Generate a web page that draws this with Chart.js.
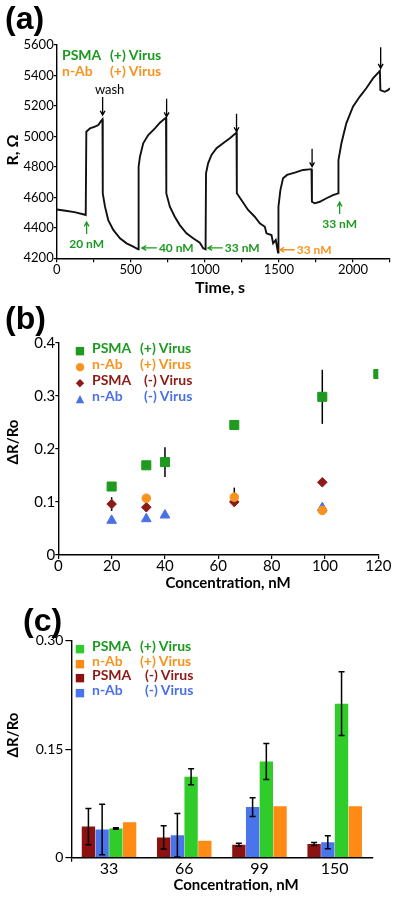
<!DOCTYPE html>
<html lang="en">
<head>
<meta charset="UTF-8">
<title>Sensor response to virus</title>
<script src="https://cdn.jsdelivr.net/npm/chart.js"></script>
<style>
  body { margin: 0; background: #fff; font-family: Lato, sans-serif; }
  .panel { position: absolute; left: 0; width: 400px; }
  .tag { position: absolute; font: bold 32px "Liberation Sans", Arial, sans-serif; line-height: 32px; }
  .lg { position: absolute; font-weight: bold; white-space: nowrap; }
  .lg span { position: absolute; top: 0; }
</style>
</head>
<body>
<div class="panel" style="top:0;height:300px"><canvas id="chartA" width="400" height="300"></canvas></div>
<div class="panel" style="top:300px;height:300px"><canvas id="chartB" width="400" height="300"></canvas></div>
<div class="panel" style="top:600px;height:299px"><canvas id="chartC" width="400" height="299"></canvas></div>
<div class="tag" style="left:5px;top:2px">(a)</div>
<div class="tag" style="left:5px;top:302px">(b)</div>
<div class="tag" style="left:23px;top:604px">(c)</div>
<div id="legends"></div>

<script>
// ---- panel (a): resistance trace ----
const timeS = [0, 60, 120, 191, 196, 200, 225, 258, 281, 299, 309, 311, 326, 348, 382, 427, 472, 517, 550,
  553, 562, 584, 618, 663, 697, 730, 738, 740, 764, 797, 831, 876, 921, 966, 989, 1005,
  1008, 1022, 1045, 1079, 1123, 1169, 1214, 1216, 1247, 1292, 1337, 1371, 1405, 1416, 1450, 1461, 1479, 1494,
  1497, 1510, 1528, 1555, 1607, 1663, 1720, 1723, 1742, 1776, 1821, 1865, 1899,
  1902, 1922, 1955, 2000, 2045, 2090, 2135, 2182, 2185, 2214, 2236, 2250];
const resOhm = [4520, 4512, 4503, 4486, 4484, 5031, 5053, 5064, 5075, 5100, 5112, 4626, 4539, 4451, 4386, 4331, 4298, 4276, 4259,
  4801, 4867, 4955, 5009, 5053, 5090, 5117, 5122, 4626, 4539, 4473, 4418, 4364, 4331, 4302, 4266, 4259,
  4758, 4823, 4878, 4922, 4955, 4988, 5025, 4627, 4583, 4517, 4473, 4430, 4407, 4364, 4353, 4298, 4320, 4238,
  4539, 4648, 4725, 4747, 4762, 4780, 4785, 4571, 4561, 4571, 4594, 4615, 4626,
  4845, 4955, 5086, 5195, 5260, 5316, 5381, 5430, 5304, 5293, 5304, 5316];
const washT = [310, 742, 1214, 1724, 2187];
const washR = [5140, 5129, 5031, 4801, 5447];
const injectText = ['20 nM', '40 nM', '33 nM', '33 nM', '33 nM'];
const injectT = [202, 575, 1020, 1506, 1910];
const injectR = [4438, 4268, 4268, 4256, 4569];
const injectDir = ['up', 'left', 'left', 'left', 'up'];
const injectOrange = [false, false, false, true, false];

// ---- panel (b): dose response points ----
const psmaPlusConc = [20, 33, 40, 66, 99, 120];
const psmaPlusVal = [0.129, 0.169, 0.175, 0.245, 0.298, 0.341];
const psmaPlusErr = [0, 0, 0.028, 0, 0.051, 0];
const nAbPlusConc = [33, 66, 99];
const nAbPlusVal = [0.107, 0.109, 0.084];
const nAbPlusErr = [0, 0.018, 0];
const psmaMinusConc = [20, 33, 66, 99];
const psmaMinusVal = [0.096, 0.090, 0.100, 0.137];
const psmaMinusErr = [0.013, 0, 0, 0];
const nAbMinusConc = [20, 33, 40, 99];
const nAbMinusVal = [0.065, 0.068, 0.075, 0.089];
const yTicksB = ['0', '0.1', '0.2', '0.3', '0.4'];

// ---- panel (c): bars ----
const concC = ['33', '66', '99', '150'];
const psmaMinusC = [0.043, 0.028, 0.018, 0.019];
const psmaMinusCErr = [0.025, 0.016, 0.002, 0.002];
const nAbMinusC = [0.039, 0.031, 0.070, 0.0215];
const nAbMinusCErr = [0.035, 0.030, 0.013, 0.009];
const psmaPlusC = [0.0405, 0.112, 0.133, 0.213];
const psmaPlusCErr = [0.001, 0.011, 0.025, 0.044];
const nAbPlusC = [0.049, 0.0235, 0.071, 0.071];
const yTicksC = ['0', '0.15', '0.30'];

const legendNames = ['PSMA', 'n-Ab', 'PSMA', 'n-Ab'];
const legendTags = ['(+) Virus', '(+) Virus', '(-) Virus', '(-) Virus'];

const GREEN_TXT = '#1c9a1f', ORANGE = '#f7931e', DARKRED = '#8c1a16', BLUE = '#4a70e6';

Chart.defaults.font.family = 'Lato, sans-serif';
Chart.defaults.color = '#000';

// pixel-placed axis titles
const axisTitles = {
  id: 'axisTitles',
  afterDraw(chart, args, opts) {
    const ctx = chart.ctx;
    opts.items.forEach(it => {
      ctx.save();
      ctx.font = it.font;
      ctx.fillStyle = '#000';
      ctx.textAlign = 'center';
      ctx.textBaseline = 'middle';
      ctx.translate(it.x, it.y);
      if (it.rotate) ctx.rotate(-Math.PI / 2);
      ctx.fillText(it.text, 0, 0);
      ctx.restore();
    });
  }
};

function drawErrors(chart, opts) {
  const ctx = chart.ctx, y = chart.scales.y;
  ctx.save();
  ctx.strokeStyle = '#000';
  ctx.lineWidth = 1.5;
  chart.data.datasets.forEach((ds, di) => {
    if (!ds.errors) return;
    chart.getDatasetMeta(di).data.forEach((el, i) => {
      const e = ds.errors[i];
      if (!e) return;
      const v = typeof ds.data[i] === 'object' ? ds.data[i].y : ds.data[i];
      const top = y.getPixelForValue(v + e), bot = y.getPixelForValue(v - e);
      ctx.beginPath();
      ctx.moveTo(el.x, top); ctx.lineTo(el.x, bot);
      if (opts.cap) {
        ctx.moveTo(el.x - opts.cap, top); ctx.lineTo(el.x + opts.cap, top);
        ctx.moveTo(el.x - opts.cap, bot); ctx.lineTo(el.x + opts.cap, bot);
      }
      ctx.stroke();
    });
  });
  ctx.restore();
}
const errorBars = {
  id: 'errorBars',
  beforeDatasetsDraw(chart, args, opts) { if (!opts.onTop) drawErrors(chart, opts); },
  afterDatasetsDraw(chart, args, opts) { if (opts.onTop) drawErrors(chart, opts); }
};

function arrow(ctx, x1, y1, x2, y2) {
  const a = Math.atan2(y2 - y1, x2 - x1), h = 5;
  ctx.beginPath();
  ctx.moveTo(x1, y1); ctx.lineTo(x2, y2);
  ctx.moveTo(x2 - h * Math.cos(a - 0.5), y2 - h * Math.sin(a - 0.5));
  ctx.lineTo(x2, y2);
  ctx.lineTo(x2 - h * Math.cos(a + 0.5), y2 - h * Math.sin(a + 0.5));
  ctx.stroke();
}

const traceNotes = {
  id: 'traceNotes',
  afterDatasetsDraw(chart) {
    const ctx = chart.ctx, xs = chart.scales.x, ys = chart.scales.y;
    ctx.save();
    ctx.lineWidth = 1.3;
    ctx.strokeStyle = '#000';
    washT.forEach((t, i) => {
      const x = xs.getPixelForValue(t), y = ys.getPixelForValue(washR[i]);
      arrow(ctx, x, y - (i === 4 ? 21 : 18), x, y);
    });
    ctx.fillStyle = '#000';
    ctx.font = '13px Lato';
    ctx.textAlign = 'center';
    ctx.textBaseline = 'middle';
    ctx.fillText('wash', xs.getPixelForValue(washT[0]) + 7, ys.getPixelForValue(washR[0]) - 25);
    ctx.font = 'bold 12px Lato';
    injectText.forEach((txt, i) => {
      const c = injectOrange[i] ? ORANGE : GREEN_TXT;
      const x = xs.getPixelForValue(injectT[i]), y = ys.getPixelForValue(injectR[i]);
      ctx.strokeStyle = c; ctx.fillStyle = c;
      if (injectDir[i] === 'up') {
        arrow(ctx, x, y + 12, x, y);
        ctx.textAlign = 'center';
        ctx.fillText(txt, x, y + 22);
      } else {
        arrow(ctx, x + 15, y, x, y);
        ctx.textAlign = 'left';
        ctx.fillText(txt, x + 17, y);
      }
    });
    ctx.restore();
  }
};

const axisLine = { color: '#000', width: 1.4 };
const tickGrid = (len) => ({ drawOnChartArea: false, tickLength: len, color: '#000', lineWidth: 1.2 });

// ---------- (a) ----------
new Chart(document.getElementById('chartA'), {
  type: 'line',
  data: {
    datasets: [{
      data: timeS.map((t, i) => ({ x: t, y: resOhm[i] })),
      borderColor: '#111', borderWidth: 1.9, pointRadius: 0, tension: 0
    }]
  },
  options: {
    responsive: false, animation: false,
    layout: { padding: { top: 45, right: 10, left: 0, bottom: 0 } },
    plugins: {
      legend: { display: false }, tooltip: { enabled: false },
      axisTitles: { items: [
        { text: 'Time, s', x: 220, y: 288, font: 'bold 16px Lato' },
        { text: 'R, Ω', x: 13, y: 150, font: 'bold 16px Lato', rotate: true }
      ] }
    },
    scales: {
      x: {
        type: 'linear', min: 0, max: 2250,
        ticks: { stepSize: 250, autoSkip: false, maxRotation: 0, padding: 0, font: { size: 13 },
          callback: v => (v % 500 === 0 ? String(v) : '') },
        grid: tickGrid(4), border: axisLine,
        afterFit: s => { s.height = 41.7; }
      },
      y: {
        min: 4200, max: 5600,
        ticks: { stepSize: 200, padding: 0, font: { size: 13 }, callback: v => String(v) },
        grid: tickGrid(3), border: axisLine,
        afterFit: s => { s.width = 56.7; }
      }
    }
  },
  plugins: [axisTitles, traceNotes]
});

// ---------- (b) ----------
const pts = (xs, ys) => xs.map((x, i) => ({ x, y: ys[i] }));
new Chart(document.getElementById('chartB'), {
  type: 'scatter',
  data: {
    datasets: [
      { data: pts(psmaPlusConc, psmaPlusVal), errors: psmaPlusErr, pointStyle: 'rect', pointRadius: 6.4,
        backgroundColor: '#1e9a1e', borderColor: '#1e9a1e' },
      { data: pts(nAbPlusConc, nAbPlusVal), errors: nAbPlusErr, pointStyle: 'circle', pointRadius: 4.3,
        backgroundColor: ORANGE, borderColor: ORANGE },
      { data: pts(psmaMinusConc, psmaMinusVal), errors: psmaMinusErr, pointStyle: 'rectRot', pointRadius: 4.8,
        backgroundColor: DARKRED, borderColor: DARKRED },
      { data: pts(nAbMinusConc, nAbMinusVal), pointStyle: 'triangle', pointRadius: 5.6,
        backgroundColor: BLUE, borderColor: BLUE }
    ]
  },
  options: {
    responsive: false, animation: false,
    layout: { padding: { top: 42.7, right: 21.7, left: 0, bottom: 0 } },
    plugins: {
      legend: { display: false }, tooltip: { enabled: false },
      errorBars: { onTop: false, cap: 0 },
      axisTitles: { items: [
        { text: 'Concentration, nM', x: 228, y: 283, font: 'bold 15px Lato' },
        { text: 'ΔR/Ro', x: 13, y: 142, font: 'bold 15px Lato', rotate: true }
      ] }
    },
    scales: {
      x: {
        type: 'linear', min: 0, max: 120,
        ticks: { stepSize: 20, padding: -2, font: { size: 15 } },
        grid: tickGrid(4), border: axisLine,
        afterFit: s => { s.height = 45; }
      },
      y: {
        min: 0, max: 0.4,
        ticks: { stepSize: 0.1, padding: 0, font: { size: 15 }, callback: (v, i) => yTicksB[i] },
        grid: tickGrid(3), border: axisLine,
        afterFit: s => { s.width = 58.3; }
      }
    }
  },
  plugins: [axisTitles, errorBars]
});

// ---------- (c) ----------
new Chart(document.getElementById('chartC'), {
  type: 'bar',
  data: {
    labels: concC,
    datasets: [
      { data: psmaMinusC, errors: psmaMinusCErr, backgroundColor: '#8b1210' },
      { data: nAbMinusC, errors: nAbMinusCErr, backgroundColor: '#4a74ec' },
      { data: psmaPlusC, errors: psmaPlusCErr, backgroundColor: '#2fcc2a' },
      { data: nAbPlusC, backgroundColor: '#ff8a14' }
    ]
  },
  options: {
    responsive: false, animation: false,
    categoryPercentage: 0.73, barPercentage: 0.97,
    layout: { padding: { top: 40.7, right: 27.7, left: 0, bottom: 0 } },
    plugins: {
      legend: { display: false }, tooltip: { enabled: false },
      errorBars: { onTop: true, cap: 3 },
      axisTitles: { items: [
        { text: 'Concentration, nM', x: 236, y: 285, font: 'bold 15px Lato' },
        { text: 'ΔR/Ro', x: 13, y: 135, font: 'bold 15px Lato', rotate: true }
      ] }
    },
    scales: {
      x: {
        ticks: { padding: -2, font: { size: 16 } },
        grid: { drawOnChartArea: false, tickLength: 4, lineWidth: 1.2,
          color: c => (c.index === 0 || c.index === concC.length ? '#000' : 'rgba(0,0,0,0)') },
        border: axisLine,
        afterFit: s => { s.height = 41.3; }
      },
      y: {
        min: 0, max: 0.3,
        ticks: { stepSize: 0.15, padding: 2, font: { size: 14 }, callback: (v, i) => yTicksC[i] },
        grid: tickGrid(6), border: axisLine,
        afterFit: s => { s.width = 71.4; }
      }
    }
  },
  plugins: [axisTitles, errorBars]
});

// ---------- legends ----------
function legend(rows, markerX, nameX, tagX, minusShift, size, markers, markerColors, textColors) {
  const box = document.getElementById('legends');
  rows.forEach((rowY, i) => {
    const d = document.createElement('div');
    d.className = 'lg';
    d.style.top = (rowY - size * 0.6) + 'px';
    d.style.left = '0px';
    d.style.fontSize = size + 'px';
    d.style.lineHeight = (size * 1.2) + 'px';
    if (markers) {
      const m = document.createElement('span');
      m.textContent = markers[i];
      m.style.left = markerX + 'px';
      m.style.color = markerColors[i];
      m.style.fontFamily = 'DejaVu Sans';
      m.style.fontSize = '11px';
      m.style.transform = 'translate(-50%, 3px)';
      d.appendChild(m);
    }
    const n = document.createElement('span');
    n.textContent = legendNames[i];
    n.style.left = nameX + 'px';
    n.style.color = textColors[i];
    const t = document.createElement('span');
    t.textContent = legendTags[i];
    t.style.left = (tagX + (i >= 2 ? minusShift : 0)) + 'px';
    t.style.color = textColors[i];
    d.appendChild(n); d.appendChild(t);
    box.appendChild(d);
  });
}
const textCols = [GREEN_TXT, ORANGE, DARKRED, BLUE];
legend([55, 71.7], 0, 62, 110, 0, 14, null, null, textCols);
legend([348.3, 364.5, 380.5, 396.5], 80, 92, 140, 4, 14, ['■', '●', '◆', '▲'],
  ['#1e9a1e', ORANGE, DARKRED, BLUE], textCols);
legend([646.5, 661, 675.5, 690], 80, 92, 140, 5, 14, ['■', '■', '■', '■'],
  ['#2fcc2a', '#ff8a14', '#8b1210', '#4a74ec'], textCols);
</script>
</body>
</html>
